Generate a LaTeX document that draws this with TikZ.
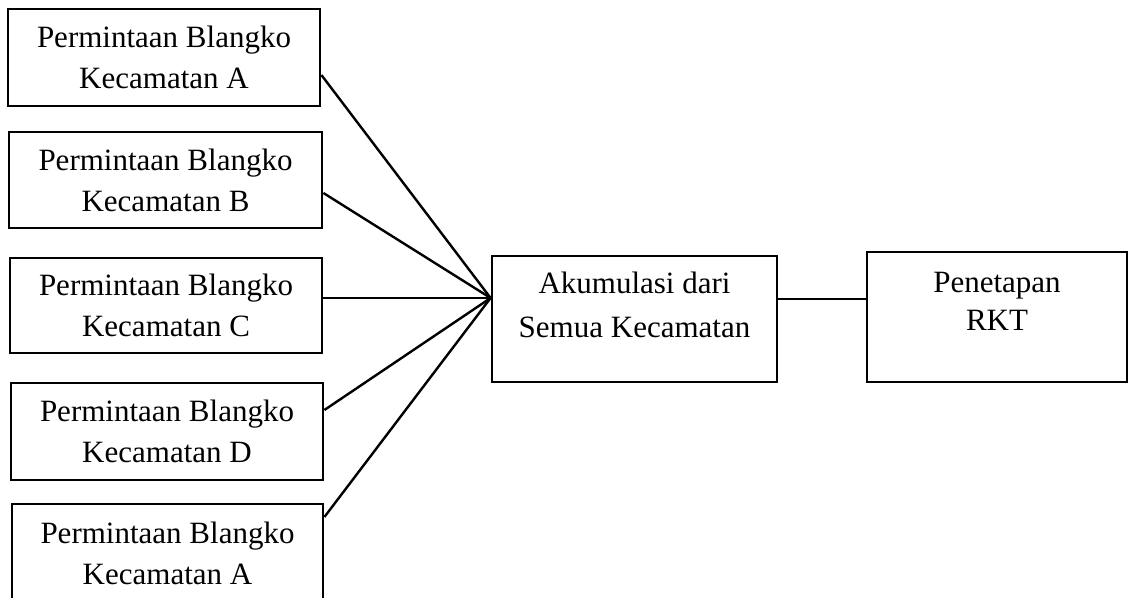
\documentclass[tikz,border=0pt]{standalone}
\usepackage{fontspec}
\setmainfont{Liberation Serif}
\usepackage{tikz}

\begin{document}
\begin{tikzpicture}[x=0.5pt, y=-0.5pt]
      \tikzstyle{kotak}=[draw, rectangle, line width=1.4pt, inner sep=0pt];
      \tikzstyle{teks}=[align=center, font=\fontsize{15.5}{20.5}\selectfont];
      \tikzstyle{garis}=[line width=1.2pt];
      \useasboundingbox (0, 0) rectangle (1129, 598);
      \draw (164, 57.5) node[style=kotak, style=teks, minimum width=156pt, minimum height=48.5pt] (kecA)
        {Permintaan Blangko\\Kecamatan A};
      \draw (165.5, 180) node[style=kotak, style=teks, minimum width=156.5pt, minimum height=48pt] (kecB)
        {Permintaan Blangko\\Kecamatan B};
      \draw (166, 305.5) node[style=kotak, style=teks, minimum width=156pt, minimum height=47.5pt] (kecC)
        {Permintaan Blangko\\Kecamatan C};
      \draw (167, 431.5) node[style=kotak, style=teks, minimum width=156pt, minimum height=48.5pt] (kecD)
        {Permintaan Blangko\\Kecamatan D};
      \draw (167.5, 553) node[style=kotak, style=teks, minimum width=155.5pt, minimum height=49pt] (kecE)
        {Permintaan Blangko\\Kecamatan A};
      \draw (634.5, 319) node[style=kotak, minimum width=142.5pt, minimum height=63pt,
        label={[style=teks, font=\fontsize{15.5}{22}\selectfont, yshift=7pt]center:Akumulasi dari\\Semua Kecamatan}] (akum) {};
      \draw (997, 317) node[style=kotak, minimum width=130pt, minimum height=65pt,
        label={[style=teks, font=\fontsize{15.5}{19}\selectfont, yshift=8pt]center:Penetapan\\RKT}] (rkt) {};
      \coordinate (temu) at ([yshift=10.5pt]akum.west);
      \draw[style=garis] ([yshift=-8.75pt]kecA.east) -- (temu);
      \draw[style=garis] ([yshift=-6.5pt]kecB.east) -- (temu);
      \draw[style=garis] ([yshift=3.75pt]kecC.east) -- (temu);
      \draw[style=garis] ([yshift=10.75pt]kecD.east) -- (temu);
      \draw[style=garis] ([yshift=18pt]kecE.east) -- (temu);
      \draw[style=garis] ([yshift=10pt]akum.east) -- ([yshift=9pt]rkt.west);
    \end{tikzpicture}
\end{document}
